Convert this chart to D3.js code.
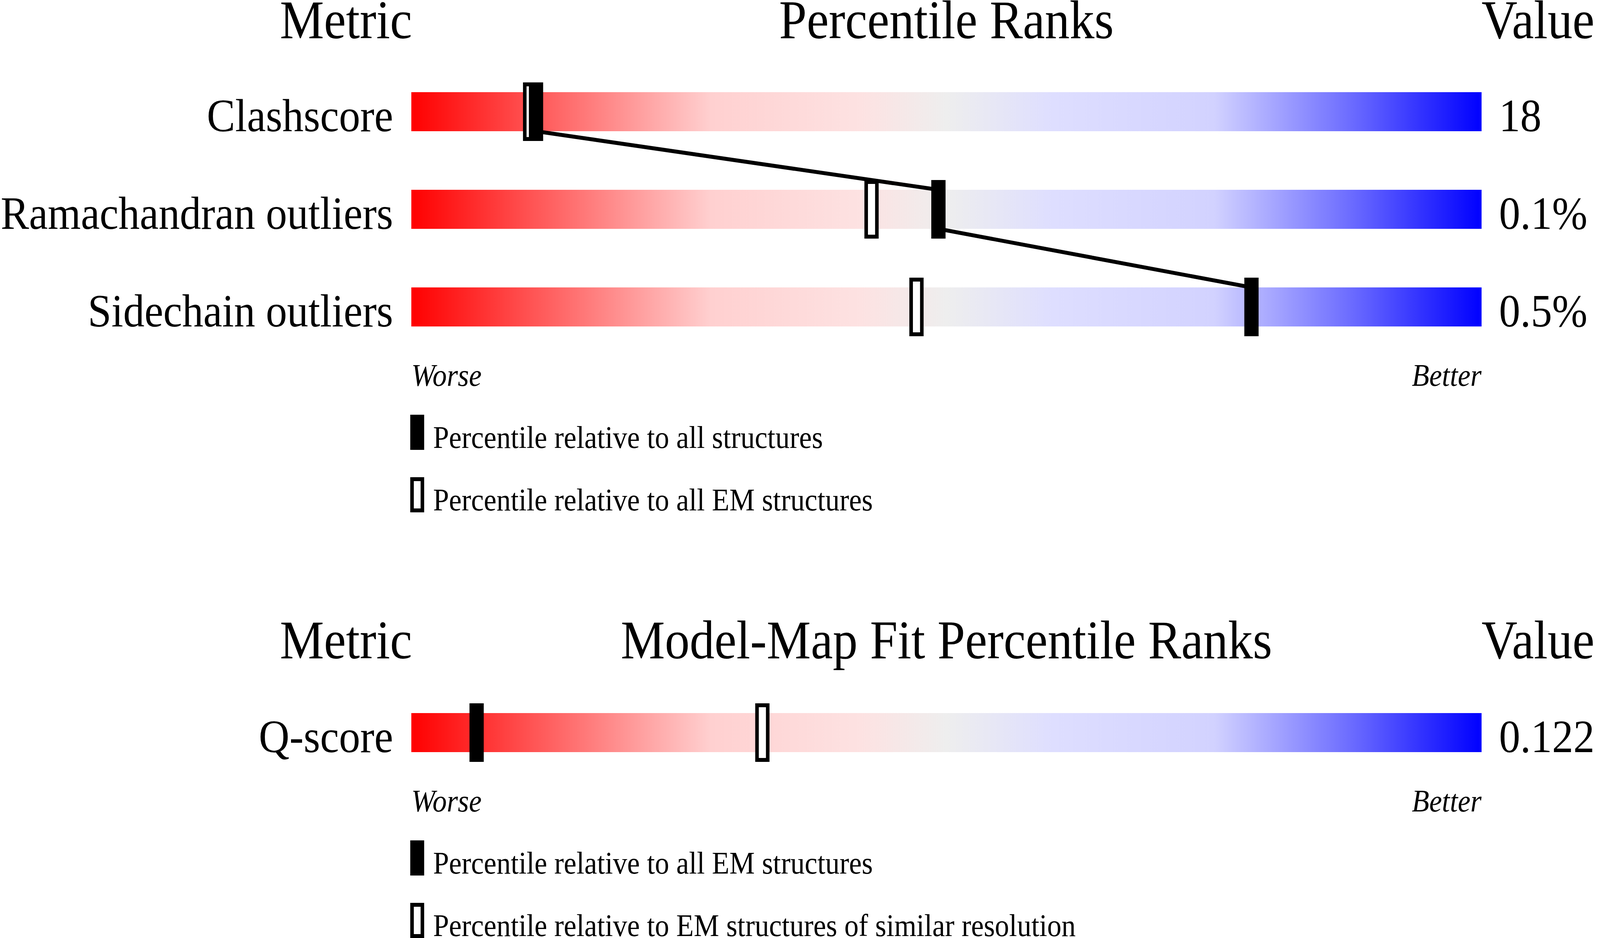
<!DOCTYPE html>
<html>
<head>
<meta charset="utf-8">
<script src="https://cdn.jsdelivr.net/npm/d3@7"></script>
<style>
  html, body { margin: 0; padding: 0; background: #ffffff; overflow: hidden; width: 100%; height: 100%; }
  svg { display: block; }
  text { font-family: "Liberation Serif", "Times New Roman", Times, serif; fill: #000; }
</style>
</head>
<body>
<script>
// ---- Data ----
const geometryMetrics = ["Clashscore", "Ramachandran outliers", "Sidechain outliers"];
const geometryValues = ["18", "0.1%", "0.5%"];
const geometryPctAll = [11.65, 49.25, 78.5];   // filled marker: relative to all structures
const geometryPctEM = [11.1, 43.0, 47.2];      // open marker: relative to all EM structures
const geometryLegend = ["Percentile relative to all structures", "Percentile relative to all EM structures"];

const fitMetrics = ["Q-score"];
const fitValues = ["0.122"];
const fitPctEM = [6.1];        // filled marker: relative to all EM structures
const fitPctRes = [32.8];      // open marker: relative to EM structures of similar resolution
const fitLegend = ["Percentile relative to all EM structures", "Percentile relative to EM structures of similar resolution"];

const gradientStops = [
  {offset: 0.00, color: "#ff0000"},
  {offset: 0.28, color: "#ffd0d0"},
  {offset: 0.42, color: "#fde2e2"},
  {offset: 0.50, color: "#eeeeee"},
  {offset: 0.60, color: "#dedeff"},
  {offset: 0.75, color: "#d2d2ff"},
  {offset: 0.88, color: "#6a6aff"},
  {offset: 1.00, color: "#0000ff"}
];

// ---- Layout ----
const W = 4485, H = 2402;
const svg = d3.select("body").append("svg")
  .attr("viewBox", `0 0 ${W} ${H}`)
  .attr("preserveAspectRatio", "none")
  .style("width", "100vw").style("height", "100vh");

const grad = svg.append("defs").append("linearGradient")
  .attr("id", "slider").attr("x1", "0%").attr("x2", "100%").attr("y1", "0%").attr("y2", "0%");
grad.selectAll("stop").data(gradientStops).join("stop")
  .attr("offset", d => d.offset).attr("stop-color", d => d.color);

const x = d3.scaleLinear().domain([0, 100]).range([1153, 4153]);

const HEAD = 139, LAB = 119, SMALL = 80;
const MW = 40, MEXT = 25, SW = 10;

function section(opts) {
  const g = svg.append("g");
  const y = d3.scaleBand().domain(opts.metrics).range(opts.yRange)
    .paddingInner(opts.metrics.length > 1 ? 0.6 : 0).paddingOuter(0);
  const bw = y.bandwidth();

  // headers
  g.append("text").attr("x", x(0) + 2).attr("y", opts.headY).attr("text-anchor", "end")
    .style("font-size", HEAD + "px").text("Metric");
  g.append("text").attr("x", x(50)).attr("y", opts.headY).attr("text-anchor", "middle")
    .style("font-size", HEAD + "px").text(opts.title);
  g.append("text").attr("x", x(100)).attr("y", opts.headY).attr("text-anchor", "start")
    .style("font-size", HEAD + "px").text("Value");

  // bars
  g.selectAll("rect.bar").data(opts.metrics).join("rect").attr("class", "bar")
    .attr("x", x(0)).attr("width", x(100) - x(0))
    .attr("y", d => y(d)).attr("height", bw)
    .attr("fill", "url(#slider)");

  // metric labels
  g.selectAll("text.lab").data(opts.metrics).join("text").attr("class", "lab")
    .attr("x", 1102).attr("y", d => y(d) + bw).attr("text-anchor", "end")
    .style("font-size", LAB + "px").text(d => d);

  // values
  g.selectAll("text.val").data(opts.values).join("text").attr("class", "val")
    .attr("x", 4202).attr("y", (d, i) => y(opts.metrics[i]) + bw)
    .style("font-size", LAB + "px").text(d => d);

  // connecting line (filled markers)
  if (opts.metrics.length > 1) {
    const pts = [];
    opts.filled.forEach((p, i) => {
      const top = y(opts.metrics[i]);
      if (i > 0) pts.push([x(p), top]);
      if (i < opts.filled.length - 1) pts.push([x(p), top + bw]);
    });
    g.append("path").attr("d", d3.line()(pts)).attr("fill", "none")
      .attr("stroke", "#000").attr("stroke-width", SW);
  }

  // open markers
  g.selectAll("rect.open").data(opts.open).join("rect").attr("class", "open")
    .attr("x", d => x(d) - MW / 2 + SW / 2).attr("width", MW - SW)
    .attr("y", (d, i) => y(opts.metrics[i]) - MEXT + SW / 2).attr("height", bw + 2 * MEXT - SW)
    .attr("fill", "#fff").attr("stroke", "#000").attr("stroke-width", SW);

  // filled markers
  g.selectAll("rect.filled").data(opts.filled).join("rect").attr("class", "filled")
    .attr("x", d => x(d) - MW / 2).attr("width", MW)
    .attr("y", (d, i) => y(opts.metrics[i]) - MEXT).attr("height", bw + 2 * MEXT)
    .attr("fill", "#000");

  // Worse / Better
  const lastBottom = y(opts.metrics[opts.metrics.length - 1]) + bw;
  g.append("text").attr("x", x(0)).attr("y", lastBottom + 152)
    .style("font-size", SMALL + "px").style("font-style", "italic").text("Worse");
  g.append("text").attr("x", x(100)).attr("y", lastBottom + 152).attr("text-anchor", "end")
    .style("font-size", SMALL + "px").style("font-style", "italic").text("Better");

  // legend
  const lg = lastBottom + 226;
  g.append("rect").attr("x", 1150).attr("y", lg).attr("width", 39).attr("height", 90).attr("fill", "#000");
  g.append("text").attr("x", 1214).attr("y", lg + 85).style("font-size", SMALL + "px").text(opts.legend[0]);
  g.append("rect").attr("x", 1150 + SW / 2).attr("y", lg + 160 + SW / 2).attr("width", 39 - SW).attr("height", 90 - SW)
    .attr("fill", "#fff").attr("stroke", "#000").attr("stroke-width", SW);
  g.append("text").attr("x", 1214).attr("y", lg + 160 + 85).style("font-size", SMALL + "px").text(opts.legend[1]);
}

section({
  metrics: geometryMetrics, values: geometryValues,
  filled: geometryPctAll, open: geometryPctEM,
  title: "Percentile Ranks", headY: 98, yRange: [236, 836],
  legend: geometryLegend
});

section({
  metrics: fitMetrics, values: fitValues,
  filled: fitPctEM, open: fitPctRes,
  title: "Model-Map Fit Percentile Ranks", headY: 1686, yRange: [1826, 1926],
  legend: fitLegend
});
</script>
</body>
</html>
